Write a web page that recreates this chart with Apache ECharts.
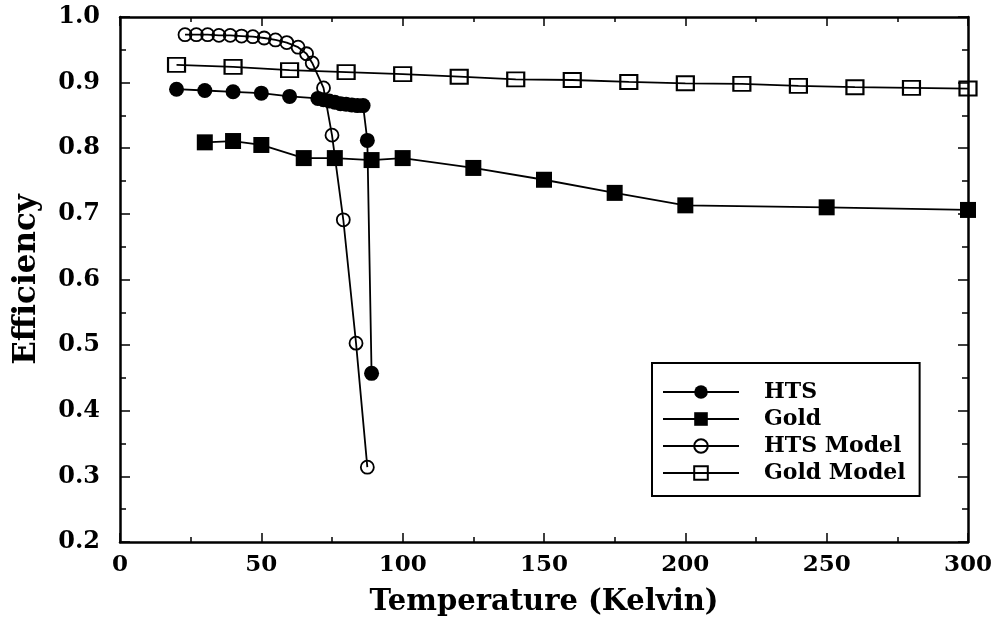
<!DOCTYPE html>
<html>
<head>
<meta charset="utf-8">
<script src="https://cdn.jsdelivr.net/npm/echarts@6/dist/echarts.min.js"></script>
<style>
  html, body { margin: 0; padding: 0; background: #fff; }
  #chart { width: 1006px; height: 627px; }
</style>
</head>
<body>
<div id="chart"></div>
<script>
// Temperature (K) and efficiency for each measured / modelled curve
const htsTemp   = [20, 30, 40, 50, 60, 70, 72, 74, 76, 78, 80, 82, 84, 86, 87.5, 89];
const htsEff    = [0.890, 0.888, 0.886, 0.884, 0.879, 0.876, 0.874, 0.872, 0.870, 0.868, 0.867, 0.866, 0.865, 0.865, 0.812, 0.457];

const goldTemp  = [30, 40, 50, 65, 76, 89, 100, 125, 150, 175, 200, 250, 300];
const goldEff   = [0.809, 0.811, 0.805, 0.785, 0.785, 0.782, 0.785, 0.770, 0.752, 0.732, 0.713, 0.710, 0.706];

const htsModelTemp = [23, 27, 31, 35, 39, 43, 47, 51, 55, 59, 63, 66, 68, 72, 75, 79, 83.5, 87.5];
const htsModelEff  = [0.973, 0.973, 0.973, 0.972, 0.972, 0.971, 0.970, 0.968, 0.965, 0.961, 0.954, 0.944, 0.930, 0.892, 0.820, 0.691, 0.503, 0.314];

const goldModelTemp = [20, 40, 60, 80, 100, 120, 140, 160, 180, 200, 220, 240, 260, 280, 300];
const goldModelEff  = [0.927, 0.924, 0.919, 0.916, 0.913, 0.909, 0.905, 0.904, 0.901, 0.899, 0.898, 0.895, 0.893, 0.892, 0.891];

const seriesNames = ['HTS', 'Gold', 'HTS Model', 'Gold Model'];

const pairs = (xs, ys) => xs.map((x, i) => [x, ys[i]]);

const FONT = 'DejaVu Serif';
const INK = '#000';

const frameAxis = {
  axisLine: { show: true, onZero: false, lineStyle: { color: INK, width: 2.5 } },
  splitLine: { show: false },
};

const chart = echarts.init(document.getElementById('chart'), null, { renderer: 'canvas' });

chart.setOption({
  backgroundColor: '#fff',
  animation: false,
  grid: { left: 120, right: 38, top: 17, bottom: 85, containLabel: false, outerBoundsMode: 'none' },
  xAxis: [
    Object.assign({
      type: 'value', min: 0, max: 300, interval: 50, position: 'bottom',
      name: 'Temperature (Kelvin)', nameLocation: 'middle', nameGap: 46,
      nameTextStyle: { fontFamily: FONT, fontSize: 29, fontWeight: 'bold', color: INK },
      axisTick: { show: true, inside: true, length: 9, lineStyle: { color: INK, width: 1.5 } },
      minorTick: { show: true, splitNumber: 2, length: 5, lineStyle: { color: INK, width: 1.5 } },
      axisLabel: { fontFamily: FONT, fontSize: 23, fontWeight: 'bold', color: INK, margin: 12 },
    }, frameAxis),
    Object.assign({
      type: 'value', min: 0, max: 300, interval: 50, position: 'top',
      axisTick: { show: true, inside: true, length: 9, lineStyle: { color: INK, width: 1.5 } },
      minorTick: { show: true, splitNumber: 2, length: 5, lineStyle: { color: INK, width: 1.5 } },
      axisLabel: { show: false },
    }, frameAxis),
  ],
  yAxis: [
    Object.assign({
      type: 'value', min: 0.2, max: 1.0, interval: 0.1, position: 'left',
      name: 'Efficiency', nameLocation: 'middle', nameGap: 78,
      nameTextStyle: { fontFamily: FONT, fontSize: 31, fontWeight: 'bold', color: INK },
      axisTick: { show: true, inside: true, length: 10, lineStyle: { color: INK, width: 1.5 } },
      minorTick: { show: true, splitNumber: 2, length: 6, lineStyle: { color: INK, width: 1.5 } },
      axisLabel: {
        fontFamily: FONT, fontSize: 24, fontWeight: 'bold', color: INK, margin: 20,
        formatter: v => v.toFixed(1),
      },
    }, frameAxis),
    Object.assign({
      type: 'value', min: 0.2, max: 1.0, interval: 0.1, position: 'right',
      axisTick: { show: true, inside: true, length: 10, lineStyle: { color: INK, width: 1.5 } },
      minorTick: { show: true, splitNumber: 2, length: 6, lineStyle: { color: INK, width: 1.5 } },
      axisLabel: { show: false },
    }, frameAxis),
  ],
  legend: {
    orient: 'vertical',
    left: 652, top: 363,
    padding: [18, 14, 12, 10],
    itemWidth: 76, itemHeight: 17, itemGap: 5,
    backgroundColor: '#fff',
    borderColor: INK, borderWidth: 2,
    data: seriesNames,
    textStyle: { fontFamily: FONT, fontSize: 22, fontWeight: 'bold', color: INK, padding: [0, 0, 0, 20] },
  },
  series: [
    {
      name: seriesNames[0], type: 'line', data: pairs(htsTemp, htsEff),
      symbol: 'circle', symbolSize: 15,
      itemStyle: { color: INK },
      lineStyle: { color: INK, width: 1.8 },
      z: 4,
    },
    {
      name: seriesNames[1], type: 'line', data: pairs(goldTemp, goldEff),
      symbol: 'rect', symbolSize: 16,
      itemStyle: { color: INK },
      lineStyle: { color: INK, width: 1.8 },
      z: 3,
    },
    {
      name: seriesNames[2], type: 'line', data: pairs(htsModelTemp, htsModelEff),
      symbol: 'circle', symbolSize: 13,
      itemStyle: { color: 'rgba(0,0,0,0)', borderColor: INK, borderWidth: 1.8 },
      lineStyle: { color: INK, width: 1.8 },
      z: 5,
    },
    {
      name: seriesNames[3], type: 'line', data: pairs(goldModelTemp, goldModelEff),
      symbol: 'rect', symbolSize: [17, 14],
      itemStyle: { color: 'rgba(0,0,0,0)', borderColor: INK, borderWidth: 2 },
      lineStyle: { color: INK, width: 1.8 },
      z: 2,
    },
  ],
});
</script>
</body>
</html>
